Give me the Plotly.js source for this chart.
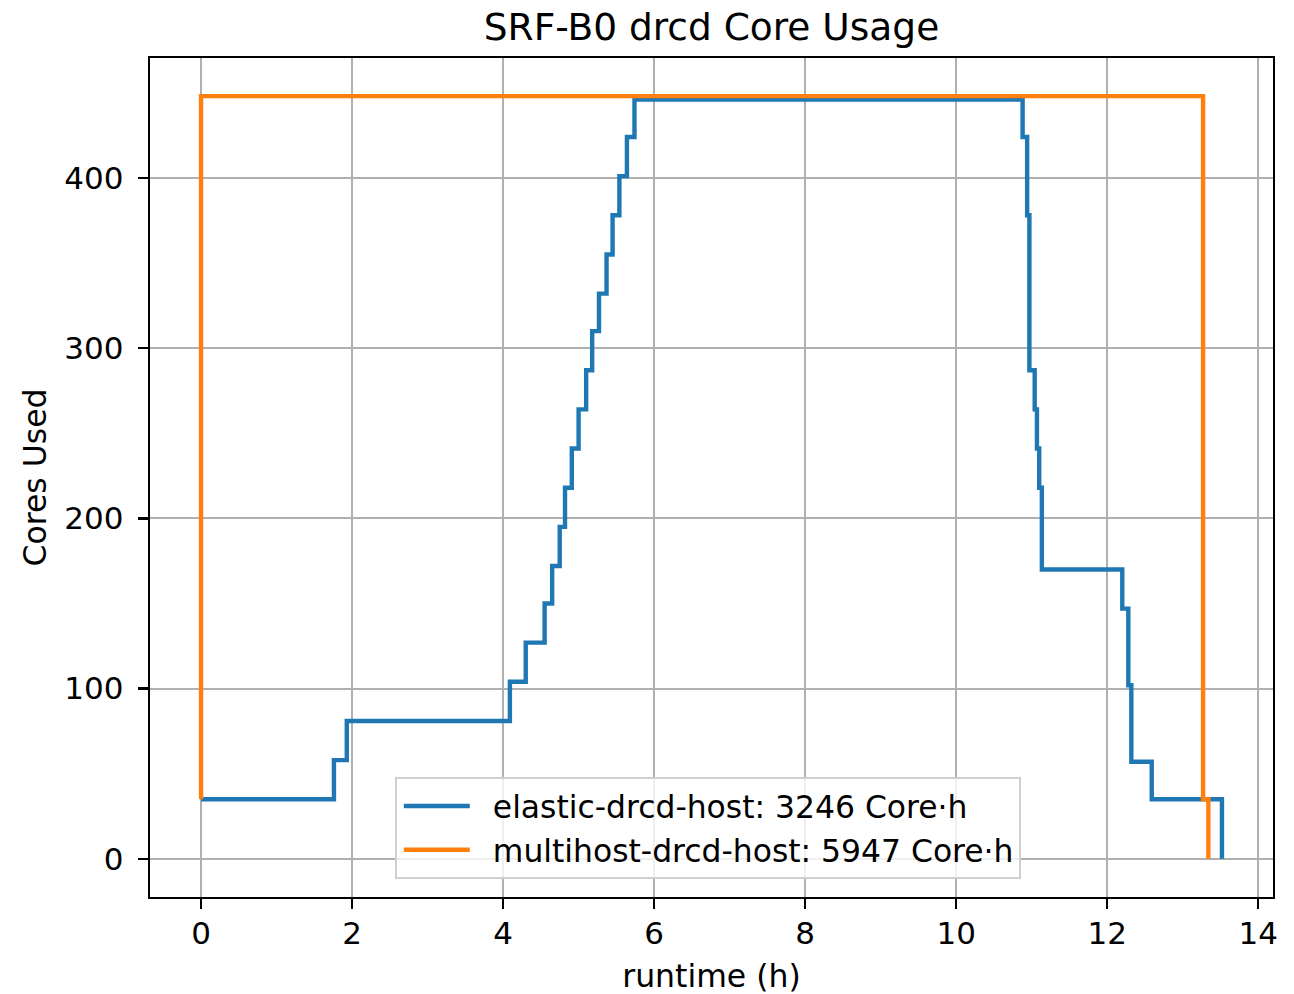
<!DOCTYPE html>
<html>
<head>
<meta charset="utf-8">
<script src="https://cdn.plot.ly/plotly-3.0.1.min.js"></script>
<style>html,body{margin:0;padding:0;background:#fff;}#chart{width:1294px;height:994px;}</style>
</head>
<body>
<div id="chart"></div>
<script>
// Elastic deployment: step times (h) and cores in use from that time
const elasticTimes = [0, 1.76, 1.93, 4.09, 4.30, 4.55, 4.65, 4.75, 4.82, 4.91, 5.00, 5.10, 5.18, 5.27, 5.37, 5.45, 5.54, 5.64, 5.74,
                      10.88, 10.94, 10.97, 11.04, 11.07, 11.10, 11.135, 12.20, 12.28, 12.32, 12.59, 13.52];
const elasticCores = [35, 58, 81, 104, 127, 150, 172, 195, 218, 241, 264, 287, 310, 332, 355, 378, 401, 424, 446,
                      424, 378, 287, 264, 241, 218, 170, 147, 102, 57, 35, 0];
// Multihost deployment
const multiTimes = [0, 0, 13.27, 13.34];
const multiCores = [35, 448, 35, 0];

const seriesNames = ["elastic-drcd-host: 3246 Core·h", "multihost-drcd-host: 5947 Core·h"];
const xTicks = [0, 2, 4, 6, 8, 10, 12, 14];
const yTicks = [0, 100, 200, 300, 400];

const FONT = "DejaVu Sans, sans-serif";
const traces = [
  {x: elasticTimes, y: elasticCores, name: seriesNames[0], type: "scatter", mode: "lines",
   line: {shape: "hv", color: "#1f77b4", width: 4.4}},
  {x: multiTimes, y: multiCores, name: seriesNames[1], type: "scatter", mode: "lines",
   line: {shape: "hv", color: "#ff7f0e", width: 4.4}}
];
const axisCommon = {
  showline: true, linecolor: "#000", linewidth: 2.4, mirror: true,
  showgrid: true, gridcolor: "#b0b0b0", gridwidth: 2.2,
  zeroline: false, ticks: "outside", ticklen: 10, tickwidth: 2.4, tickcolor: "#000",
  tickfont: {family: FONT, size: 31, color: "#000"}
};
const layout = {
  width: 1294, height: 994,
  margin: {l: 150, r: 21, t: 58, b: 97},
  paper_bgcolor: "#fff", plot_bgcolor: "#fff",
  font: {family: FONT, color: "#000"},
  title: {text: "SRF-B0 drcd Core Usage", font: {family: FONT, size: 37.5, color: "#000"},
          x: 0.5, xref: "paper", xanchor: "center", y: 0.973, yref: "container", yanchor: "middle"},
  xaxis: Object.assign({}, axisCommon, {
    range: [-0.676, 14.196], tickmode: "array", tickvals: xTicks, ticktext: xTicks.map(String),
    ticklabelstandoff: -3,
    title: {text: "runtime (h)", font: {family: FONT, size: 31.5, color: "#000"}, standoff: 20}
  }),
  yaxis: Object.assign({}, axisCommon, {
    range: [-22.4, 470.4], tickmode: "array", tickvals: yTicks, ticktext: yTicks.map(String),
    ticklabelstandoff: 8,
    title: {text: "Cores Used", font: {family: FONT, size: 31.5, color: "#000"}, standoff: 8}
  }),
  showlegend: true,
  legend: {x: 0.218, y: 0.143, xanchor: "left", yanchor: "top", itemwidth: 86,
           bgcolor: "rgba(255,255,255,0.8)", bordercolor: "#d0d0d0", borderwidth: 2,
           font: {family: FONT, size: 31.4, color: "#000"}, tracegroupgap: 0}
};
Plotly.newPlot("chart", traces, layout, {displayModeBar: false, staticPlot: true}).then(function (gd) {
  // shorten legend line samples to match the reference handle length
  gd.querySelectorAll(".legend .legendlines path").forEach(function (p) {
    const d = p.getAttribute("d") || "";
    const m = d.match(/^M([\-\d.]+),([\-\d.]+)h([\-\d.]+)/);
    if (m) {
      p.setAttribute("d", "M" + (parseFloat(m[1]) + 2) + "," + m[2] + "h66");
    }
  });
});
</script>
</body>
</html>
